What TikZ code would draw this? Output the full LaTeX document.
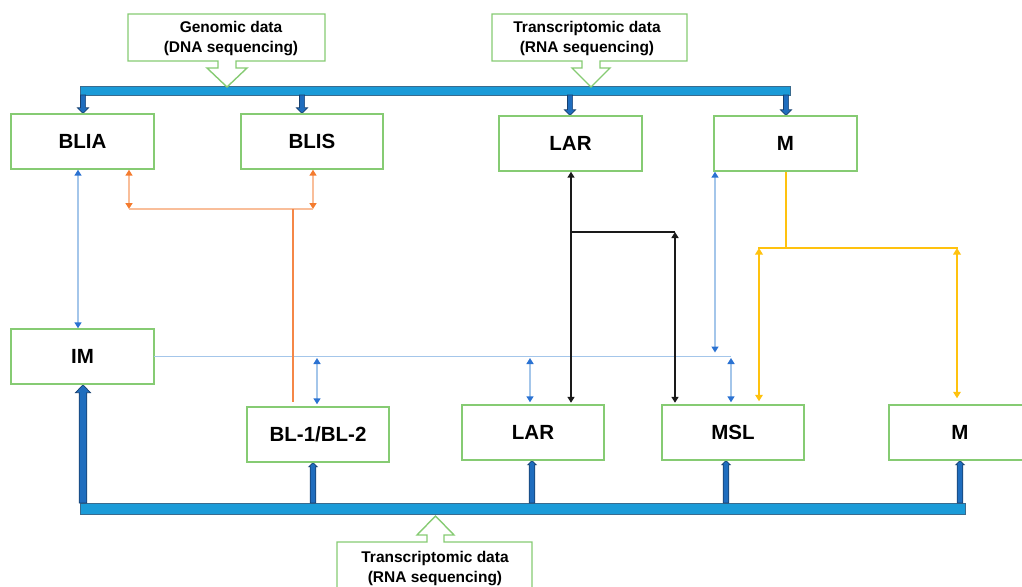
\documentclass[tikz,border=0pt]{standalone}
\usepackage{fontspec}
\setmainfont{Liberation Sans}
\usetikzlibrary{arrows.meta,calc}

\definecolor{boxgreen}{HTML}{86CB73}
\definecolor{barfill}{HTML}{1B9BD8}
\definecolor{barline}{HTML}{3A6B8E}
\definecolor{arrfill}{HTML}{1F6DBE}
\definecolor{arrline}{HTML}{17406F}
\definecolor{linkblue}{HTML}{A4C6EA}
\definecolor{tipblue}{HTML}{2A72D2}
\definecolor{linkorange}{HTML}{F9BE9A}
\definecolor{tiporange}{HTML}{F47B2E}
\definecolor{deeporange}{HTML}{F58747}
\definecolor{linkyellow}{HTML}{FFC20E}
\definecolor{linkblack}{HTML}{1A1A1A}

% block arrow: #1 tip, #2 point on the base line, #3 half shaft, #4 half head, #5 signed head length
\newcommand{\blockarr}[5]{%
  \path[blockarrow] let \p1=#1, \p2=#2 in
    (\x1-#3,\y2) -- (\x1-#3,{\y1+(#5)}) -- (\x1-#4,{\y1+(#5)}) -- (\x1,\y1)
    -- (\x1+#4,{\y1+(#5)}) -- (\x1+#3,{\y1+(#5)}) -- (\x1+#3,\y2) -- cycle;}

\begin{document}
\begin{tikzpicture}[x=1pt,y=-1pt,
  box/.style={draw=boxgreen,line width=1.4pt,fill=white,minimum width=142pt,
    minimum height=55pt,inner sep=0pt,font=\fontsize{20.5}{24}\selectfont\bfseries},
  bar/.style={draw=barline,line width=0.8pt,fill=barfill,inner sep=0pt,outer sep=0pt},
  blockarrow/.style={draw=arrline,line width=0.7pt,fill=arrfill,line join=miter},
  callout/.style={draw=boxgreen,line width=1.4pt,fill=white,line join=miter},
  calltext/.style={align=center,inner sep=0pt,font=\fontsize{15.5}{20.5}\selectfont\bfseries},
  tipB/.tip={Triangle[width=7pt,length=6pt,color=tipblue]},
  tipO/.tip={Triangle[width=7pt,length=6pt,color=tiporange]},
  tipK/.tip={Triangle[width=7pt,length=6pt]},
  tipY/.tip={Triangle[width=7.5pt,length=6.5pt]},
  bluelink/.style={draw=linkblue,line width=1.5pt},
  bluetwo/.style={bluelink,tipB-tipB},
  orangelink/.style={draw=linkorange,line width=1.5pt},
  orangetwo/.style={orangelink,tipO-tipO},
  blacklink/.style={draw=linkblack,line width=1.8pt},
  blacktwo/.style={blacklink,tipK-tipK},
  yellowlink/.style={draw=linkyellow,line width=2.2pt},
  yellowtwo/.style={yellowlink,tipY-tipY},
]
\useasboundingbox (0,0) rectangle (1022,586);
\clip (0,0) rectangle (1022,586);

% data bars
\node[bar,minimum width=710pt,minimum height=9pt] (topbar) at (435,90.5) {};
\node[bar,minimum width=885pt,minimum height=11pt] (botbar) at (522.5,508.5) {};

% subtype boxes
\node[box] (blia) at (82.5,141.5) {BLIA};
\node[box] (blis) at (312,141.5) {BLIS};
\node[box] (lart) at (570.5,143.5) {LAR};
\node[box] (mt)   at (785.5,143.5) {M};
\node[box] (im)   at (82.5,356.5) {IM};
\node[box] (bl)   at (318,434.5) {BL-1/BL-2};
\node[box] (larb) at (533,432.5) {LAR};
\node[box] (msl)  at (733,432.5) {MSL};
\node[box] (mb)   at (960,432.5) {M};

% block arrows from the top bar
\blockarr{([xshift=0.5pt]blia.north)}{(topbar.south)}{2.6pt}{5.5pt}{5.5pt}
\blockarr{([xshift=-10pt]blis.north)}{(topbar.south)}{2.6pt}{5.5pt}{5.5pt}
\blockarr{([xshift=-0.5pt]lart.north)}{(topbar.south)}{2.6pt}{5.5pt}{5.5pt}
\blockarr{([xshift=0.5pt]mt.north)}{(topbar.south)}{2.6pt}{5.5pt}{5.5pt}

% block arrows from the bottom bar
\blockarr{([xshift=0.5pt]im.south)}{(botbar.north)}{3.8pt}{7.5pt}{-8pt}
\blockarr{([xshift=-5pt]bl.south)}{(botbar.north)}{2.8pt}{4.2pt}{-4pt}
\blockarr{([xshift=-1pt]larb.south)}{(botbar.north)}{2.8pt}{4.2pt}{-4pt}
\blockarr{([xshift=-7pt]msl.south)}{(botbar.north)}{2.8pt}{4.2pt}{-4pt}
\blockarr{(mb.south)}{(botbar.north)}{2.8pt}{4.2pt}{-4pt}

% redraw box outlines above the arrow tips
\foreach \b in {blia,blis,lart,mt,im,bl,larb,msl,mb}
  \draw[boxgreen,line width=1.4pt] (\b.north west) rectangle (\b.south east);

% junction points
\coordinate (ojoin) at (293,209);
\coordinate (bhend) at (731,356.5);
\coordinate (kjoin) at (675,232);
\coordinate (yl) at (759,248);
\coordinate (yr) at (957,248);
\coordinate (ymid) at (786,248);

\path ([xshift=-4.5pt]blia.south) coordinate (ba)
      ([xshift=46.5pt]blia.south) coordinate (oa)
      ([xshift=1pt]blis.south) coordinate (ob)
      ([xshift=-1pt]bl.north) coordinate (bb)
      ([xshift=-3pt]larb.north) coordinate (bc)
      ([xshift=-70.5pt]mt.south) coordinate (bd)
      ([xshift=0.5pt]lart.south) coordinate (ka)
      ([xshift=0.5pt]mt.south) coordinate (ya);

% blue links
\draw[bluetwo] (ba) -- (ba |- im.north);
\draw[bluelink] (im.east) -- (bhend);
\draw[bluetwo,shorten <=1.5pt,shorten >=2pt] (bb |- bhend) -- (bb);
\draw[bluetwo,shorten <=1.5pt,shorten >=2pt] (bc |- bhend) -- (bc);
\draw[bluetwo,shorten <=1.5pt,shorten >=2pt] (bhend) -- (bhend |- msl.north);
\draw[bluetwo,shorten >=4pt] (bd) -- (bd |- bhend);

% orange links
\draw[orangetwo] (oa) -- (oa |- ojoin);
\draw[orangetwo] (ob) -- (ob |- ojoin);
\draw[orangelink] (oa |- ojoin) -- (ob |- ojoin);
\draw[deeporange,line width=2.2pt,shorten >=4pt] (ojoin) -- (ojoin |- bl.north);

% black links
\draw[blacktwo,shorten >=1.5pt] (ka) -- (ka |- larb.north);
\draw[blacklink] (ka |- kjoin) -- (kjoin);
\draw[blacktwo,shorten >=1.5pt] (kjoin) -- (kjoin |- msl.north);

% yellow links
\draw[yellowlink] (ya) -- (ymid);
\draw[yellowlink] ([xshift=-1pt]yl) -- ([xshift=1pt]yr);
\draw[yellowtwo,shorten >=3pt] (yl) -- (yl |- msl.north);
\draw[yellowtwo,shorten >=6pt] (yr) -- (yr |- mb.north);

% data source callouts
\draw[callout] (128,14) -- (325,14) -- (325,61) -- (236,61) -- (236,68) -- (247,68)
  -- (227,87) -- (207,68) -- (218,68) -- (218,61) -- (128,61) -- cycle;
\node[calltext] (gentext) at (231,38.5) {Genomic data\\(DNA sequencing)};

\draw[callout] (492,14) -- (687,14) -- (687,61) -- (600,61) -- (600,68) -- (610,68)
  -- (591,87) -- (572,68) -- (582,68) -- (582,61) -- (492,61) -- cycle;
\node[calltext] (rnatop) at (587,38.5) {Transcriptomic data\\(RNA sequencing)};

\draw[callout] (337,600) -- (337,542) -- (427,542) -- (427,535) -- (417,535)
  -- (435.5,516) -- (454,535) -- (444,535) -- (444,542) -- (532,542) -- (532,600);
\node[calltext] (rnabot) at (435,568.5) {Transcriptomic data\\(RNA sequencing)};
\end{tikzpicture}
\end{document}
